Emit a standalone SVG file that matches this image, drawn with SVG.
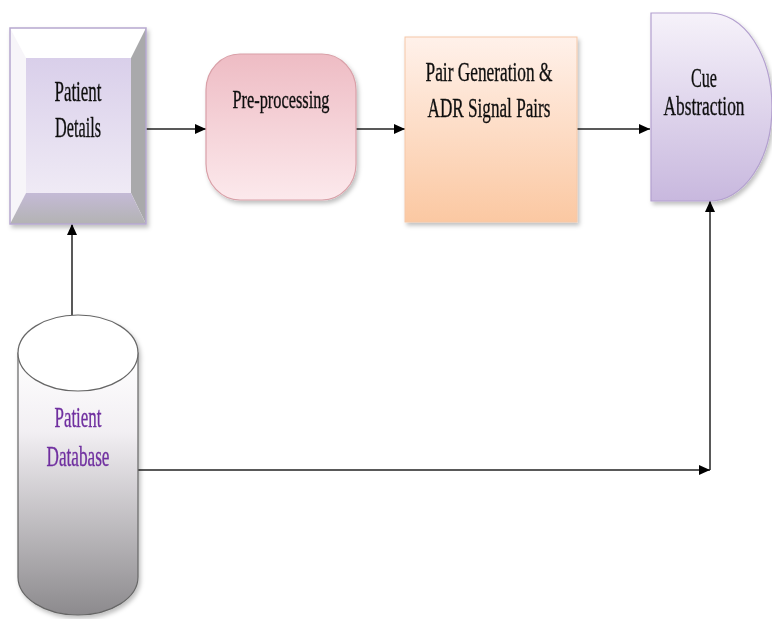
<svg xmlns="http://www.w3.org/2000/svg" width="772" height="619" viewBox="0 0 772 619">
<defs>
<linearGradient id="gInner" x1="0" y1="0" x2="0" y2="1"><stop offset="0" stop-color="#d9cfea"/><stop offset="1" stop-color="#efeaf5"/></linearGradient>
<linearGradient id="gBottom" x1="0" y1="0" x2="0" y2="1"><stop offset="0" stop-color="#c4bad6"/><stop offset="1" stop-color="#b3b3b3"/></linearGradient>
<linearGradient id="gPink" x1="0" y1="0" x2="0" y2="1"><stop offset="0" stop-color="#eebcc4"/><stop offset="1" stop-color="#fce9ec"/></linearGradient>
<linearGradient id="gPeach" x1="0" y1="0" x2="0" y2="1"><stop offset="0" stop-color="#fff1ea"/><stop offset="1" stop-color="#fbc8a2"/></linearGradient>
<linearGradient id="gLav" x1="0" y1="0" x2="0" y2="1"><stop offset="0" stop-color="#f6f2fa"/><stop offset="1" stop-color="#c8b8de"/></linearGradient>
<linearGradient id="gCyl" x1="0" y1="0" x2="0" y2="1"><stop offset="0" stop-color="#ffffff"/><stop offset="0.3" stop-color="#f2eff3"/><stop offset="1" stop-color="#8c8a8d"/></linearGradient>
<filter id="sh" x="-10%" y="-10%" width="130%" height="130%"><feDropShadow dx="2" dy="3" stdDeviation="2" flood-color="#000" flood-opacity="0.25"/></filter>
<marker id="ah" viewBox="0 0 10 10" refX="10" refY="5" markerWidth="11" markerHeight="10" markerUnits="userSpaceOnUse" orient="auto" preserveAspectRatio="none"><path d="M0,0 L10,5 L0,10 z" fill="#000"/></marker>
</defs>
<style>
text{font-family:"Liberation Serif","Times New Roman",serif;fill:#111;stroke:#111;stroke-width:0.35;text-anchor:middle}
.c{stroke:#222;stroke-width:1.5;fill:none}
text.db{fill:#7030a0;stroke:#7030a0}
</style>
<rect width="772" height="619" fill="#fff"/>
<g id="connectors">
<path class="c" d="M146,129 H206" marker-end="url(#ah)"/>
<path class="c" d="M356,129 H405" marker-end="url(#ah)"/>
<path class="c" d="M577,129 H650" marker-end="url(#ah)"/>
<path class="c" d="M72,315 V224" marker-end="url(#ah)"/>
<path class="c" d="M138,470 H710" marker-end="url(#ah)"/>
<path class="c" d="M710,470 V201" marker-end="url(#ah)"/>
</g>
<g id="patient-details" filter="url(#sh)">
<rect x="10" y="28" width="136" height="196" fill="#fff"/>
<path d="M10,28 L146,28 L131,58 L26,58 Z" fill="#ffffff"/>
<path d="M10,28 L26,58 L26,193 L10,224 Z" fill="#f7f5f9"/>
<path d="M146,28 L146,224 L131,193 L131,58 Z" fill="#a9a9ab"/>
<path d="M10,224 L146,224 L131,193 L26,193 Z" fill="url(#gBottom)"/>
<rect x="26" y="58" width="105" height="135" fill="url(#gInner)"/>
<rect x="10" y="28" width="136" height="196" fill="none" stroke="#b6a8d0" stroke-width="1.5"/>
<text x="78" y="101" font-size="30" textLength="47" lengthAdjust="spacingAndGlyphs">Patient</text>
<text x="78" y="137" font-size="30" textLength="46" lengthAdjust="spacingAndGlyphs">Details</text>
</g>
<g id="pre-processing" filter="url(#sh)">
<rect x="206" y="54" width="150" height="146" rx="34" ry="36" fill="url(#gPink)" stroke="#d9a0a8" stroke-width="1.2"/>
<text x="281" y="108" font-size="25" textLength="97" lengthAdjust="spacingAndGlyphs">Pre-processing</text>
</g>
<g id="pair-generation" filter="url(#sh)">
<rect x="405" y="37" width="172" height="185" fill="url(#gPeach)" stroke="#f5c8a8" stroke-width="1"/>
<text x="489" y="81" font-size="28" textLength="127" lengthAdjust="spacingAndGlyphs">Pair Generation &amp;</text>
<text x="489" y="117" font-size="28" textLength="123" lengthAdjust="spacingAndGlyphs">ADR Signal Pairs</text>
</g>
<g id="cue-abstraction" filter="url(#sh)">
<path d="M651,13 H710 A62,94 0 0 1 710,201 H651 Z" fill="url(#gLav)" stroke="#b3a0cf" stroke-width="1.2"/>
<text x="704" y="87" font-size="27" textLength="26" lengthAdjust="spacingAndGlyphs">Cue</text>
<text transform="translate(704,115) scale(0.643,1)" x="0" y="0" font-size="27">Abstraction</text>
</g>
<g id="patient-database" filter="url(#sh)">
<path d="M18,353 V577 A60,38 0 0 0 138,577 V353 Z" fill="url(#gCyl)" stroke="#666" stroke-width="1.2"/>
<ellipse cx="78" cy="353" rx="60" ry="38" fill="#fff" stroke="#666" stroke-width="1.2"/>
<text class="db" x="78" y="427" font-size="29" textLength="47" lengthAdjust="spacingAndGlyphs">Patient</text>
<text class="db" x="78" y="466" font-size="29" textLength="63" lengthAdjust="spacingAndGlyphs">Database</text>
</g>
</svg>
